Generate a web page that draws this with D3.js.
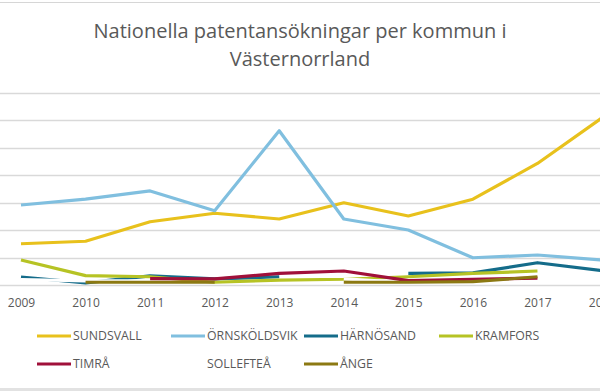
<!DOCTYPE html>
<html><head><meta charset="utf-8">
<script src="https://cdn.jsdelivr.net/npm/d3@7"></script>
<style>html,body{margin:0;padding:0;background:#fff;overflow:hidden}svg{display:block}</style>
</head><body>
<svg id="chart" width="600" height="391"></svg>
<script>
const years = [2009,2010,2011,2012,2013,2014,2015,2016,2017,2018];
const yTicks = [0,10,20,30,40,50,60,70];
const sundsvall    = [15.0,15.9,23.0,26.1,24.0,29.9,25.1,31.2,44.2,60.8];
const ornskoldsvik = [29.1,31.2,34.2,27.0,56.1,24.0,20.0,9.9,10.9,9.1];
const harnosand    = [2.9,0.8,3.3,2.2,3.0,null,4.2,4.4,8.1,5.2];
const kramfors     = [9.1,3.4,3.0,1.0,1.8,2.1,3.0,4.2,5.1,null];
const timra        = [null,null,2.3,2.2,4.2,5.1,1.6,2.1,2.5,null];
const solleftea    = [2.0,1.5,1.5,null,null,2.2,0.9,1.5,2.2,null];
const ange         = [null,1.0,1.0,1.0,null,1.0,1.0,1.2,3.0,null];

const seriesNames  = ["SUNDSVALL","ÖRNSKÖLDSVIK","HÄRNÖSAND","KRAMFORS","TIMRÅ","SOLLEFTEÅ","ÅNGE"];
const seriesValues = [sundsvall,ornskoldsvik,harnosand,kramfors,timra,solleftea,ange];
const seriesColors = ["#E8C11C","#80BFDF","#146C8A","#B6C324","#A0103A","#FFFFFF","#8C7912"];
const drawOrder    = [0,1,2,3,5,4,6];
const title = ["Nationella patentansökningar per kommun i","Västernorrland"];

const svg = d3.select("#chart");
const txt = "#595959";

// frame lines
svg.append("line").attr("x1",0).attr("x2",600).attr("y1",2.5).attr("y2",2.5).attr("stroke","#d6d6d6").attr("stroke-width",1);
svg.append("rect").attr("x",0).attr("y",388).attr("width",600).attr("height",3).attr("fill","#e2e2e2");

// title
svg.append("g").selectAll("text").data(title).join("text")
  .attr("x",300).attr("y",(d,i)=>38+i*28)
  .attr("text-anchor","middle").attr("fill",txt)
  .style("font-family","'Open Sans', sans-serif").style("font-size","20px")
  .text(d=>d);

const x = d3.scaleLinear().domain([2009,2018]).range([21,602]);
const y = d3.scaleLinear().domain([0,70]).range([285,92.5]);

// gridlines
svg.append("g").selectAll("line").data(yTicks).join("line")
  .attr("x1",0).attr("x2",600)
  .attr("y1",d=>Math.round(y(d))+0.5).attr("y2",d=>Math.round(y(d))+0.5)
  .attr("stroke","#d9d9d9").attr("stroke-width",1.5);

// x axis labels
const xAxis = d3.axisBottom(x).tickValues(years).tickFormat(d3.format("d")).tickSize(0).tickPadding(0);
const gx = svg.append("g").attr("transform","translate(0,298)").call(xAxis);
gx.select(".domain").remove();
gx.selectAll("text").attr("fill",txt).style("font-family","'Open Sans', sans-serif").style("font-size","12px").attr("dy","0.71em");

// lines
const line = d3.line().defined(d=>d.v!=null).x(d=>x(d.year)).y(d=>y(d.v));
const plot = svg.append("g");
drawOrder.forEach(i=>{
  const data = years.map((yr,j)=>({year:yr,v:seriesValues[i][j]}));
  plot.append("path").datum(data).attr("d",line)
    .attr("fill","none").attr("stroke",seriesColors[i]).attr("stroke-width",3.2)
    .attr("stroke-linejoin","round").attr("stroke-linecap","butt");
});

// legend
const colX = [37,171,304,439];
const rowY = [336,364];
const leg = svg.append("g").selectAll("g").data(seriesNames).join("g")
  .attr("transform",(d,i)=>`translate(${colX[i%4]},${rowY[Math.floor(i/4)]})`);
leg.append("line").attr("x1",0).attr("x2",34).attr("y1",0).attr("y2",0)
  .attr("stroke",(d,i)=>seriesColors[i]).attr("stroke-width",3.2);
leg.append("text").attr("x",36).attr("y",0).attr("dy","0.35em").attr("fill",txt)
  .style("font-family","'Open Sans', sans-serif").style("font-size","12.3px").text(d=>d);
</script>
</body></html>
